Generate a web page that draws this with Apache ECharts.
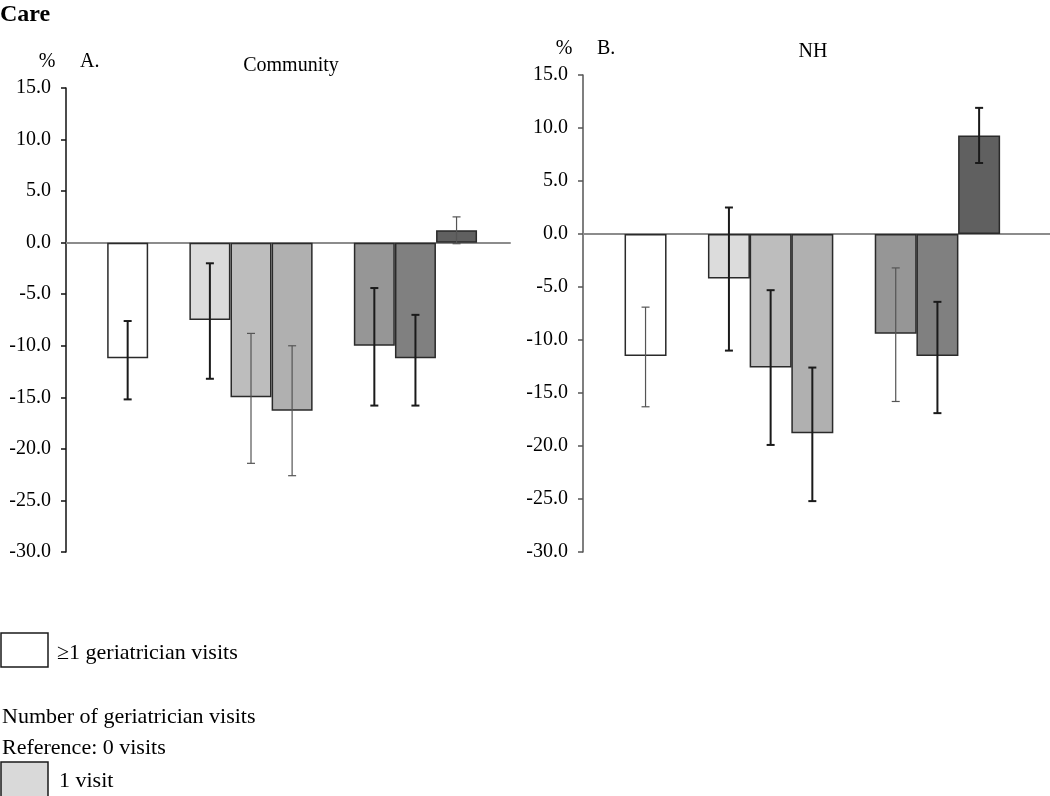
<!DOCTYPE html>
<html>
<head>
<meta charset="utf-8">
<script src="https://cdn.jsdelivr.net/npm/echarts@6/dist/echarts.min.js"></script>
<style>html,body{margin:0;padding:0;background:#fff}#c{width:1050px;height:796px}</style>
</head>
<body>
<div id="c"></div>
<script>
// ---- data ----
const slots = [1.5, 3.5, 4.5, 5.5, 7.5, 8.5, 9.5];
const yTicks = [-30, -25, -20, -15, -10, -5, 0, 5, 10, 15];
const communityValues = [-11.2, -7.5, -15.0, -16.3, -10.0, -11.2, 1.2];
const communityLow    = [-15.2, -13.2, -21.4, -22.6, -15.8, -15.8, -0.1];
const communityHigh   = [-7.6, -2.0, -8.8, -10.0, -4.4, -7.0, 2.5];
const nhValues = [-11.5, -4.2, -12.6, -18.8, -9.4, -11.5, 9.3];
const nhLow    = [-16.3, -11.0, -19.9, -25.2, -15.8, -16.9, 6.7];
const nhHigh   = [-6.9, 2.5, -5.3, -12.6, -3.2, -6.4, 11.9];

// ---- styles ----
const barColors = ['#ffffff', '#dcdcdc', '#bdbdbd', '#b0b0b0', '#969696', '#808080', '#606060'];
const errDarkA = [true, true, false, false, true, true, false];
const errDarkB = [false, true, true, true, false, true, true];
const FONT = '"Liberation Serif", "Times New Roman", serif';

const chart = echarts.init(document.getElementById('c'), null, {renderer: 'canvas'});

function yAxisCfg(gridIndex, lineColor) {
  return {
    type: 'value', gridIndex, min: yTicks[0], max: yTicks[yTicks.length - 1], interval: 5,
    axisLine: {show: true, onZero: false, lineStyle: {color: lineColor, width: 1.5}},
    axisTick: {show: true, inside: false, length: 5, lineStyle: {color: lineColor, width: 1.5}},
    splitLine: {show: false},
    axisLabel: {margin: 15, color: '#000', fontFamily: FONT, fontSize: 20,
      padding: [0, 0, 4, 0],
      formatter: v => v.toFixed(1)}
  };
}
function xAxisCfg(gridIndex, max) {
  return {
    type: 'value', gridIndex, min: 0, max,
    axisLine: {show: true, onZero: true, lineStyle: {color: '#8c8c8c', width: 2}},
    axisTick: {show: false}, axisLabel: {show: false}, splitLine: {show: false}
  };
}
function barSeries(idx, values, width) {
  return {
    type: 'bar', xAxisIndex: idx, yAxisIndex: idx, barWidth: width, z: 3,
    data: slots.map((s, i) => [s, values[i]]),
    itemStyle: {color: p => barColors[p.dataIndex], borderColor: '#2a2a2a', borderWidth: 1.5},
    silent: true
  };
}
function errSeries(idx, low, high, darkFlags) {
  return {
    type: 'custom', xAxisIndex: idx, yAxisIndex: idx, z: 5, silent: true,
    data: slots.map((s, i) => [s, low[i], high[i], i]),
    renderItem: (params, api) => {
      const x = api.value(0);
      const i = api.value(3);
      const pLo = api.coord([x, api.value(1)]);
      const pHi = api.coord([x, api.value(2)]);
      const dark = darkFlags[i];
      const style = {stroke: dark ? '#1a1a1a' : '#555555', lineWidth: dark ? 2 : 1.2};
      const w = 4;
      return {type: 'group', children: [
        {type: 'line', shape: {x1: pLo[0], y1: pLo[1], x2: pHi[0], y2: pHi[1]}, style},
        {type: 'line', shape: {x1: pHi[0] - w, y1: pHi[1], x2: pHi[0] + w, y2: pHi[1]}, style},
        {type: 'line', shape: {x1: pLo[0] - w, y1: pLo[1], x2: pLo[0] + w, y2: pLo[1]}, style}
      ]};
    }
  };
}
function txt(x, y, text, opts) {
  return Object.assign({type: 'text', x, y, silent: true,
    style: Object.assign({text, fill: '#000', font: '20px ' + FONT, verticalAlign: 'middle', align: 'left'}, opts || {})});
}

chart.setOption({
  animation: false,
  grid: [
    {left: 66, top: 88, width: 444, height: 464},
    {left: 583, top: 75, width: 467, height: 477}
  ],
  xAxis: [xAxisCfg(0, 10.8), xAxisCfg(1, 11.2)],
  yAxis: [yAxisCfg(0, '#111'), yAxisCfg(1, '#555')],
  series: [
    barSeries(0, communityValues, 41), errSeries(0, communityLow, communityHigh, errDarkA),
    barSeries(1, nhValues, 42), errSeries(1, nhLow, nhHigh, errDarkB)
  ],
  graphic: [
    txt(0, 15, 'Care', {font: 'bold 24px ' + FONT}),
    txt(47, 62, '%', {align: 'center'}),
    txt(80, 62, 'A.'),
    txt(291, 66, 'Community', {align: 'center'}),
    txt(564, 49, '%', {align: 'center'}),
    txt(597, 49, 'B.'),
    txt(813, 52, 'NH', {align: 'center'}),
    {type: 'rect', shape: {x: 1, y: 633, width: 47, height: 34}, style: {fill: '#fff', stroke: '#1a1a1a', lineWidth: 1.5}},
    txt(57, 653, '\u22651 geriatrician visits', {font: '22px ' + FONT}),
    txt(2, 717, 'Number of geriatrician visits', {font: '22px ' + FONT}),
    txt(2, 748, 'Reference: 0 visits', {font: '22px ' + FONT}),
    {type: 'rect', shape: {x: 1, y: 762, width: 47, height: 40}, style: {fill: '#d9d9d9', stroke: '#1a1a1a', lineWidth: 1.5}},
    txt(59, 781, '1 visit', {font: '22px ' + FONT})
  ]
});
</script>
</body>
</html>
